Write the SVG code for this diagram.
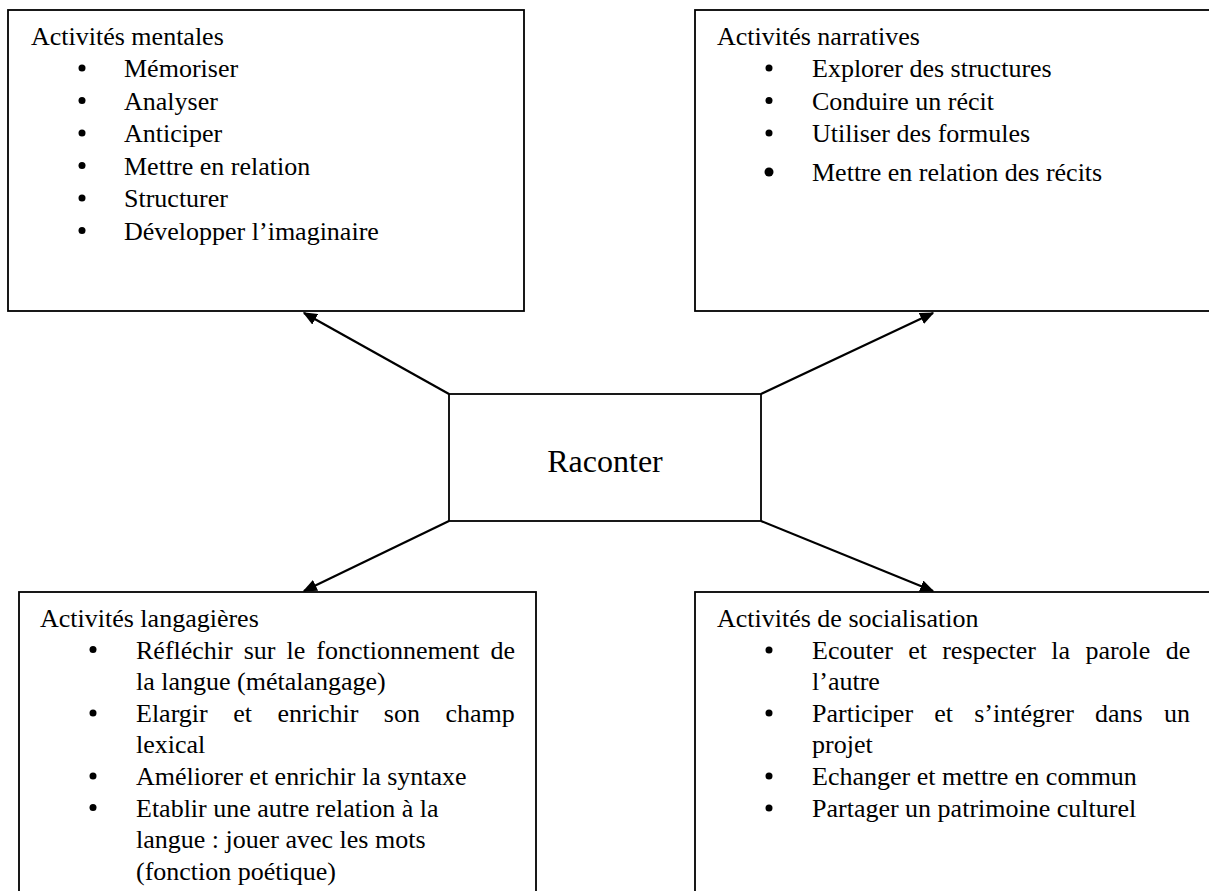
<svg xmlns="http://www.w3.org/2000/svg" width="1209" height="891" viewBox="0 0 1209 891">
  <style>
    .box { fill: #ffffff; stroke: #000000; stroke-width: 1.8; }
    .t { font-family: "Liberation Serif", "Times New Roman", serif; font-size: 26px; fill: #000000; }
    .big { font-family: "Liberation Serif", "Times New Roman", serif; font-size: 32px; fill: #000000; }
    .dot { fill: #000000; }
    .conn { stroke: #000000; stroke-width: 2.2; fill: none; marker-end: url(#arr); }
  </style>
  <defs>
    <marker id="arr" viewBox="0 0 10 10" refX="9" refY="5" markerWidth="6.5" markerHeight="5.5" preserveAspectRatio="none" markerUnits="strokeWidth" orient="auto">
      <path d="M0,0 L10,5 L0,10 z" fill="#000000"/>
    </marker>
  </defs>
  <rect width="1209" height="891" fill="#ffffff"/>

  <g id="node-mentales">
    <rect class="box" x="8" y="10" width="516" height="301"/>
    <text class="t" x="31" y="45">Activités mentales</text>
    <circle class="dot" cx="82" cy="68" r="3.5"/>
    <text class="t" x="124" y="77">Mémoriser</text>
    <circle class="dot" cx="82" cy="100.5" r="3.5"/>
    <text class="t" x="124" y="109.5">Analyser</text>
    <circle class="dot" cx="82" cy="133" r="3.5"/>
    <text class="t" x="124" y="142">Anticiper</text>
    <circle class="dot" cx="82" cy="165.5" r="3.5"/>
    <text class="t" x="124" y="174.5">Mettre en relation</text>
    <circle class="dot" cx="82" cy="198" r="3.5"/>
    <text class="t" x="124" y="207">Structurer</text>
    <circle class="dot" cx="82" cy="230.5" r="3.5"/>
    <text class="t" x="124" y="239.5">Développer l’imaginaire</text>
  </g>

  <g id="node-narratives">
    <rect class="box" x="695" y="10" width="520" height="301"/>
    <text class="t" x="717" y="45">Activités narratives</text>
    <circle class="dot" cx="769" cy="68" r="3.5"/>
    <text class="t" x="812" y="77">Explorer des structures</text>
    <circle class="dot" cx="769" cy="100.5" r="3.5"/>
    <text class="t" x="812" y="109.5">Conduire un récit</text>
    <circle class="dot" cx="769" cy="133" r="3.5"/>
    <text class="t" x="812" y="142">Utiliser des formules</text>
    <circle class="dot" cx="769" cy="172" r="4.5"/>
    <text class="t" x="812" y="181">Mettre en relation des récits</text>
  </g>

  <g id="node-raconter">
    <rect class="box" x="449" y="394" width="312" height="127"/>
    <text class="big" x="605" y="472" text-anchor="middle">Raconter</text>
  </g>

  <g id="node-langagieres">
    <rect class="box" x="19" y="592" width="517" height="320"/>
    <text class="t" x="40" y="627">Activités langagières</text>
    <circle class="dot" cx="93" cy="649.6" r="3.5"/>
    <text class="t" x="136" y="658.6" word-spacing="4.5">Réfléchir sur le fonctionnement de</text>
    <text class="t" x="136" y="690">la langue (métalangage)</text>
    <circle class="dot" cx="93" cy="713" r="3.5"/>
    <text class="t" x="136" y="722" word-spacing="19">Elargir et enrichir son champ</text>
    <text class="t" x="136" y="753">lexical</text>
    <circle class="dot" cx="93" cy="776" r="3.5"/>
    <text class="t" x="136" y="785">Améliorer et enrichir la syntaxe</text>
    <circle class="dot" cx="93" cy="807.5" r="3.5"/>
    <text class="t" x="136" y="816.5">Etablir une autre relation à la</text>
    <text class="t" x="136" y="848">langue : jouer avec les mots</text>
    <text class="t" x="136" y="879.5">(fonction poétique)</text>
  </g>

  <g id="node-socialisation">
    <rect class="box" x="695" y="592" width="520" height="320"/>
    <text class="t" x="717" y="627">Activités de socialisation</text>
    <circle class="dot" cx="769" cy="650" r="3.5"/>
    <text class="t" x="812" y="659" word-spacing="8.8">Ecouter et respecter la parole de</text>
    <text class="t" x="812" y="690">l’autre</text>
    <circle class="dot" cx="769" cy="713" r="3.5"/>
    <text class="t" x="812" y="722" word-spacing="14.7">Participer et s’intégrer dans un</text>
    <text class="t" x="812" y="753">projet</text>
    <circle class="dot" cx="769" cy="776" r="3.5"/>
    <text class="t" x="812" y="785">Echanger et mettre en commun</text>
    <circle class="dot" cx="769" cy="808" r="3.5"/>
    <text class="t" x="812" y="817">Partager un patrimoine culturel</text>
  </g>

  <g id="connectors">
    <line class="conn" x1="449" y1="394" x2="304" y2="313"/>
    <line class="conn" x1="761" y1="394" x2="933" y2="313"/>
    <line class="conn" x1="449" y1="521" x2="304" y2="591"/>
    <line class="conn" x1="761" y1="521" x2="933" y2="591"/>
  </g>
</svg>
